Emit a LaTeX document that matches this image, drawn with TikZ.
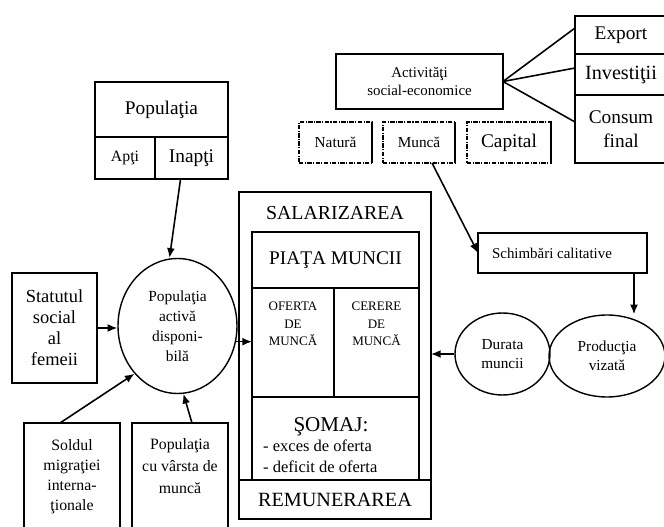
\documentclass[tikz,border=0pt]{standalone}
\usepackage{fontspec}
\setmainfont{Liberation Serif}
\usetikzlibrary{shapes.geometric,calc,arrows.meta}

\newcommand{\fs}[2]{\fontsize{#1}{#2}\selectfont}

\begin{document}
\begin{tikzpicture}[x=0.02cm,y=-0.02cm,
  box/.style={draw,line width=0.8pt,outer sep=0pt,inner sep=1pt,align=center},
  dbox/.style={draw,line width=0.6pt,dash pattern=on 2.5pt off 0.8pt on 0.6pt off 0.8pt,outer sep=0pt,align=center},
  oval/.style={draw,ellipse,line width=0.8pt,inner sep=0pt,align=center},
  arr/.style={-{Latex[length=5.5pt,width=4.5pt]},line width=0.9pt}]

\useasboundingbox (0,0) rectangle (664,527);

% populatia
\node[box,minimum width=2.66cm,minimum height=1.1cm,font=\fs{11}{13}] (pop) at (161.5,109.5) {Populaţia};
\node[box,minimum width=1.2cm,minimum height=0.84cm,font=\fs{9}{11}] (apti) at (125,158) {Apţi};
\node[box,minimum width=1.46cm,minimum height=0.84cm,font=\fs{11}{13}] (inapti) at (191.5,158) {Inapţi};

% activitati si destinatii
\node[box,minimum width=3.34cm,minimum height=1.1cm,font=\fs{8.5}{10.2}] (act) at (419.5,81.5) {Activităţi\\social-economice};
\node[box,minimum width=1.84cm,minimum height=0.76cm,font=\fs{11}{13}] (exp) at (621,35) {Export};
\node[box,minimum width=1.84cm,minimum height=0.82cm,font=\fs{11.5}{13}] (inv) at (621,74.5) {Investiţii};
\node[box,minimum width=1.84cm,minimum height=1.36cm,font=\fs{11}{14}] (cons) at (621,129) {Consum\\final};
\draw [line width=0.9pt](act.east) -- ([yshift=0.14cm]exp.west);
\draw [line width=0.9pt](act.east) -- ([yshift=0.13cm]inv.west);
\draw [line width=0.9pt](act.east) -- ([yshift=0.14cm]cons.west);

% factori
\node[dbox,minimum width=1.46cm,minimum height=0.82cm,font=\fs{8.7}{10}] (nat) at (335.5,142.5) {Natură};
\node[dbox,minimum width=1.44cm,minimum height=0.82cm,font=\fs{8.7}{10}] (mun) at (419,142.5) {Muncă};
\node[dbox,minimum width=1.68cm,minimum height=0.82cm,font=\fs{11}{13}] (cap) at (509,142.5) {Capital};
\foreach \n in {nat,mun,cap}
  \draw [line width=1.2pt](\n.north east) -- (\n.south east);

% salarizarea
\node[box,minimum width=3.84cm,minimum height=6.54cm] (sal) at (335,355.5) {};
\node[font=\fs{11.3}{13}] (saltxt) at (335,213) {SALARIZAREA};
\node[box,minimum width=3.34cm,minimum height=1.12cm,font=\fs{11}{13}] (pm) at (335.5,260) {PIAŢA MUNCII};
\node[box,minimum width=1.64cm,minimum height=2.18cm] (ofe) at (293,342.5) {};
\node[box,minimum width=1.7cm,minimum height=2.18cm] (cer) at (376.5,342.5) {};
\node[anchor=north,align=center,font=\fs{7.4}{10}] (ofetxt) at ([yshift=-0.16cm]ofe.north) {OFERTA\\DE\\MUNCĂ};
\node[anchor=north,align=center,font=\fs{7.4}{10}] (certxt) at ([yshift=-0.16cm]cer.north) {CERERE\\DE\\MUNCĂ};
\node[box,minimum width=3.34cm,minimum height=1.66cm] (som) at (335.5,438.5) {};
\node[font=\fs{12}{14}] (somtxt) at (331,427) {ŞOMAJ:};
\node[anchor=west,align=left,font=\fs{9.4}{12}] (somlst) at (257,456) {- exces de oferta\\- deficit de oferta};
\node[box,minimum width=3.84cm,minimum height=0.78cm,font=\fs{11.5}{13}] (rem) at (335,499.5) {REMUNERAREA};

% populatia activa
\node[oval,minimum width=2.38cm,minimum height=2.7cm,font=\fs{8.8}{11.3}] (pad) at (177.5,326) {Populaţia\\activă\\disponi-\\bilă};
\node[box,minimum width=1.7cm,minimum height=2.2cm,font=\fs{10.5}{12}] (stat) at (54.5,328) {Statutul\\social\\al\\femeii};
\node[box,minimum width=1.92cm,minimum height=2.14cm,font=\fs{9}{11.3}] (sold) at (72,476.5) {Soldul\\migraţiei\\interna-\\ţionale};
\node[box,minimum width=1.92cm,minimum height=2.14cm] (vars) at (180,476.5) {};
\node[align=center,font=\fs{9}{12.3}] (varstxt) at (180,466) {Populaţia\\cu vârsta de\\muncă};

% productia
\node[box,minimum width=3.38cm,minimum height=0.8cm] (sch) at (562.5,253) {};
\node[font=\fs{8.5}{10}] (schtxt) at (552,253) {Schimbări calitative};
\node[oval,minimum width=1.9cm,minimum height=1.64cm,font=\fs{8.7}{10.8}] (dur) at (502.5,354) {Durata\\muncii};
\node[oval,minimum width=2.32cm,minimum height=1.64cm,font=\fs{8.7}{10.8}] (prod) at (607,356) {Producţia\\vizată};

% sageti
\coordinate (inout) at ($(inapti.south west)!0.35!(inapti.south east)$);
\coordinate (schout) at ([xshift=-0.26cm]sch.south east);
\draw [arr](inout) -- ([xshift=-0.16cm]pad.north);
\draw [arr](stat.east) -- (stat.east -| pad.west);
\draw [arr]([xshift=-0.24cm]sold.north) -- (pad.228);
\draw [arr]([xshift=0.24cm]vars.north) -- (pad.275);
\draw [arr](pad.345) -- (pad.345 -| ofe.west);
\draw [arr](dur.west) -- (dur.west -| sal.east);
\draw [arr]([xshift=0.26cm]mun.south) -- (sch.west);
\draw [arr](schout) -- (schout |- prod.north);
\end{tikzpicture}
\end{document}
